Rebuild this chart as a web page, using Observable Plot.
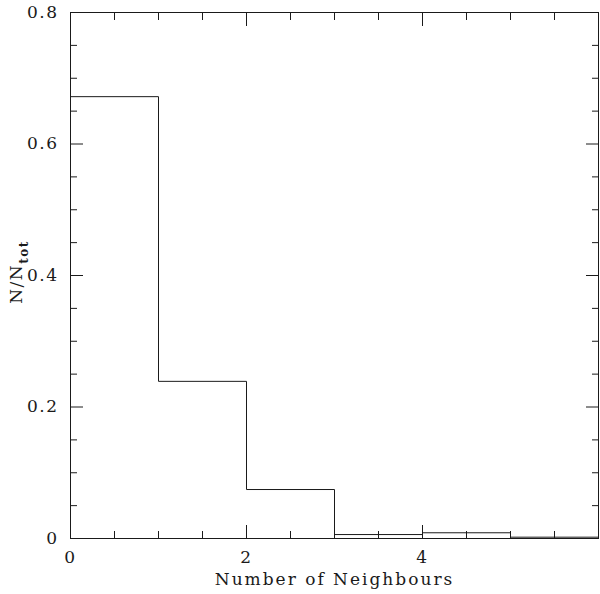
<!DOCTYPE html>
<html><head><meta charset="utf-8">
<script src="https://cdn.jsdelivr.net/npm/d3@7"></script>
<script src="https://cdn.jsdelivr.net/npm/@observablehq/plot@0.6"></script>
<style>body{margin:0;background:#fff}</style>
</head><body><div id="chart"></div>
<script>
const binStarts = [0, 1, 2, 3, 4, 5];
const binEnd = 6;
const fractions = [0.672, 0.239, 0.0745, 0.006, 0.0087, 0.002];
const xMajorTicks = [0, 2, 4];
const xMinorTicks = [0.5, 1, 1.5, 2.5, 3, 3.5, 4.5, 5, 5.5];
const yMajorTicks = [0, 0.2, 0.4, 0.6, 0.8];
const yMinorTicks = [0.05, 0.1, 0.15, 0.25, 0.3, 0.35, 0.45, 0.5, 0.55, 0.65, 0.7, 0.75];
const xTitle = "Number of Neighbours";

const steps = binStarts.map((x, i) => ({x, y: fractions[i]}))
  .concat([{x: binEnd, y: fractions[fractions.length - 1]}]);

const ink = "#1a1a1a";
const noLabel = () => "";

const chart = Plot.plot({
  width: 600, height: 594,
  marginLeft: 70, marginRight: 2, marginTop: 12, marginBottom: 56,
  x: {domain: [0, 6], axis: null},
  y: {domain: [0, 0.8], axis: null},
  style: {fontFamily: "DejaVu Serif", fontSize: "17px", color: ink, background: "#fff"},
  marks: [
    Plot.line(steps, {x: "x", y: "y", curve: "step-after", stroke: ink, strokeWidth: 1}),
    // inward ticks, bottom & top
    Plot.axisX(xMajorTicks, {anchor: "bottom", tickSize: -13, tickFormat: noLabel, label: null, stroke: ink}),
    Plot.axisX(xMinorTicks, {anchor: "bottom", tickSize: -7, tickFormat: noLabel, label: null, stroke: ink}),
    Plot.axisX(xMajorTicks, {anchor: "top", tickSize: -13, tickFormat: noLabel, label: null, stroke: ink}),
    Plot.axisX(xMinorTicks, {anchor: "top", tickSize: -7, tickFormat: noLabel, label: null, stroke: ink}),
    // inward ticks, left & right
    Plot.axisY(yMajorTicks, {anchor: "left", tickSize: -13, tickFormat: noLabel, label: null, stroke: ink}),
    Plot.axisY(yMinorTicks, {anchor: "left", tickSize: -7, tickFormat: noLabel, label: null, stroke: ink}),
    Plot.axisY(yMajorTicks, {anchor: "right", tickSize: -13, tickFormat: noLabel, label: null, stroke: ink}),
    Plot.axisY(yMinorTicks, {anchor: "right", tickSize: -7, tickFormat: noLabel, label: null, stroke: ink}),
    // labels
    Plot.axisX(xMajorTicks, {anchor: "bottom", tickSize: 0, tickPadding: 12, tickFormat: d => String(d),
      label: xTitle, labelAnchor: "center", labelOffset: 46, labelArrow: "none", fill: ink}),
    Plot.axisY(yMajorTicks, {anchor: "left", tickSize: 0, tickPadding: 12, tickFormat: d => d === 0 ? "0" : d3.format(".1f")(d),
      label: null, fill: ink}),
    Plot.frame({stroke: ink, strokeWidth: 1})
  ]
});

const svg = d3.select(chart);
svg.selectAll("text").style("letter-spacing", "1.5px");
svg.selectAll("text").filter(function() { return this.textContent === xTitle; })
  .style("letter-spacing", "2px");
const t = svg.append("text")
  .attr("transform", "translate(22,272) rotate(-90)")
  .attr("text-anchor", "middle")
  .attr("font-family", "DejaVu Serif")
  .attr("font-size", 17)
  .attr("fill", ink)
  .style("letter-spacing", "1.5px");
t.append("tspan").text("N/N");
t.append("tspan").attr("font-size", 12).attr("font-weight", "bold").attr("dy", 6).text("tot");

document.getElementById("chart").append(chart);
</script>
</body></html>
